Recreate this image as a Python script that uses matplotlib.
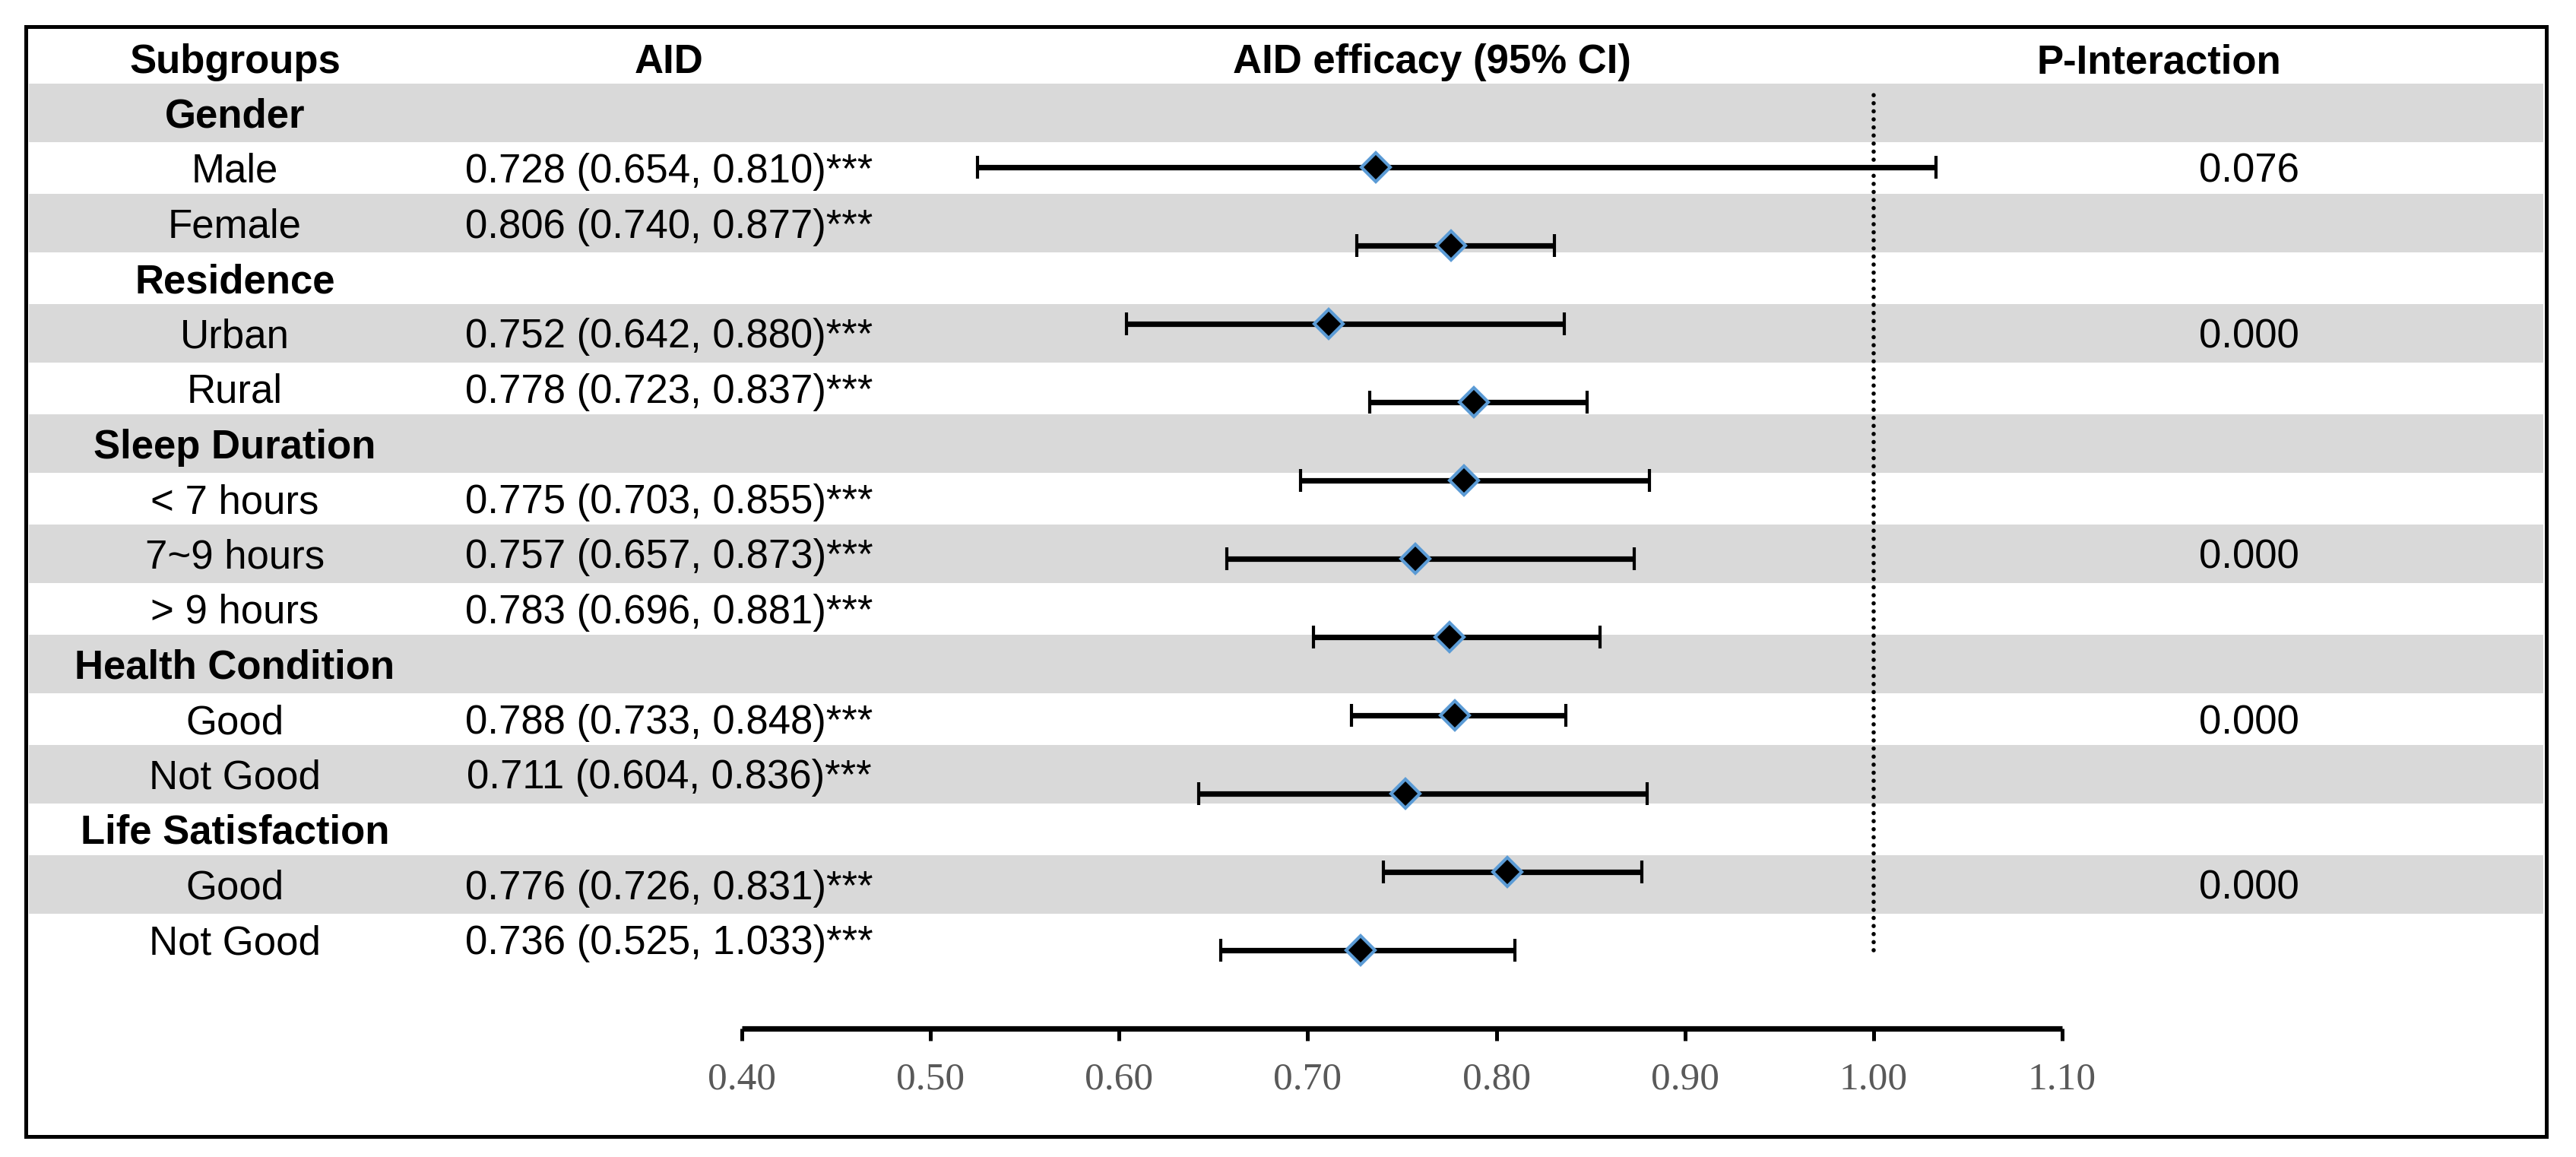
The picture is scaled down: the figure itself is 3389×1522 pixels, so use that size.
import numpy as np
import matplotlib
matplotlib.use("Agg")
import matplotlib.pyplot as plt
from matplotlib.patches import Rectangle

plt.rcParams['font.family'] = ['Liberation Sans', 'DejaVu Sans']

# Dados do gráfico
groups = ['Gender', 'Residence', 'Sleep Duration', 'Health Condition', 'Life Satisfaction']
levels = [['Male', 'Female'],
          ['Urban', 'Rural'],
          ['< 7 hours', '7~9 hours', '> 9 hours'],
          ['Good', 'Not Good'],
          ['Good', 'Not Good']]
est = [0.728, 0.806, 0.752, 0.778, 0.775, 0.757, 0.783, 0.788, 0.711, 0.776, 0.736]
lo = [0.654, 0.740, 0.642, 0.723, 0.703, 0.657, 0.696, 0.733, 0.604, 0.726, 0.525]
hi = [0.810, 0.877, 0.880, 0.837, 0.855, 0.873, 0.881, 0.848, 0.836, 0.831, 1.033]
p_interaction = ['0.076', '0.000', '0.000', '0.000', '0.000']
p_level = [0, 0, 1, 0, 0]   # nível onde o P aparece
headers = ['Subgroups', 'AID', 'AID efficacy (95% CI)', 'P-Interaction']
x_ticks = [0.40, 0.50, 0.60, 0.70, 0.80, 0.90, 1.00, 1.10]
ref_value = 1.00

W, H = 3389, 1522
fig = plt.figure(figsize=(W / 200, H / 200), dpi=200)

# Tabela (fundo)
tab = fig.add_axes([38 / W, (H - 1270) / H, 3308 / W, 1160 / H])
tab.set_xlim(0, 1)
tab.set_ylim(16, 0)
tab.axis('off')

rows = []
for g, lv in zip(groups, levels):
    rows.append((g, True))
    for name in lv:
        rows.append((name, False))

for k in range(0, len(rows), 2):
    tab.barh(k, 1, height=1.06, left=0, align='edge', color='#D9D9D9', zorder=0)

fs = 19
col_sub, col_aid, col_fig, col_p, col_pv = 0.0819, 0.2545, 0.558, 0.847, 0.883
for x, h in zip([col_sub, col_aid, col_fig, col_p], headers):
    tab.text(x, -0.38, h, ha='center', va='center', fontsize=fs,
             fontweight='bold', clip_on=False)

i = 0
for k, (name, is_group) in enumerate(rows):
    yc = k + 0.6
    if is_group:
        tab.text(col_sub, yc, name, ha='center', va='center', fontsize=fs, fontweight='bold')
    else:
        tab.text(col_sub, yc, name, ha='center', va='center', fontsize=fs)
        tab.text(col_aid, yc, f'{est[i]:.3f} ({lo[i]:.3f}, {hi[i]:.3f})***',
                 ha='center', va='center', fontsize=fs)
        i += 1

k = 0
for g, lv, pv, pl in zip(groups, levels, p_interaction, p_level):
    tab.text(col_pv, k + 1 + pl + 0.6, pv, ha='center', va='center', fontsize=fs)
    k += 1 + len(lv)

# Forest plot
ax = fig.add_axes([976 / W, (H - 1353) / H, (2713 - 976) / W, (1353 - 117) / H])
ax.patch.set_visible(False)
y = np.arange(1, len(est) + 1)
e = np.array(est)
ax.errorbar(e, y, xerr=[e - np.array(lo), np.array(hi) - e], fmt='D',
            color='black', ecolor='black', elinewidth=2.6, capsize=5.4, capthick=3.0,
            markersize=9.6, markerfacecolor='black', markeredgecolor='#5B9BD5',
            markeredgewidth=1.5, zorder=3)
ax.vlines(ref_value, 1, 12, colors='black', linewidth=2.0,
          linestyles=(0, (0.01, 1.9)), capstyle='round', zorder=2)

ax.set_xlim(x_ticks[0], x_ticks[-1])
ax.set_ylim(0, 12)
ax.set_xticks(x_ticks)
ax.set_xticklabels([f'{t:.2f}' for t in x_ticks], family='Liberation Serif',
                   fontsize=18.5, color='#595959')
ax.tick_params(axis='x', direction='out', length=5.8, width=1.8, pad=10, color='black')
ax.set_yticks([])
for s in ['left', 'right', 'top']:
    ax.spines[s].set_visible(False)
ax.spines['bottom'].set_linewidth(2.6)
ax.spines['bottom'].set_capstyle('butt')

# Moldura
fig.patches.append(Rectangle((34 / W, (H - 1495) / H), (3350 - 34) / W, (1495 - 35) / H,
                             transform=fig.transFigure, fill=False,
                             edgecolor='black', linewidth=1.8))

plt.savefig('out.png', dpi=200)
